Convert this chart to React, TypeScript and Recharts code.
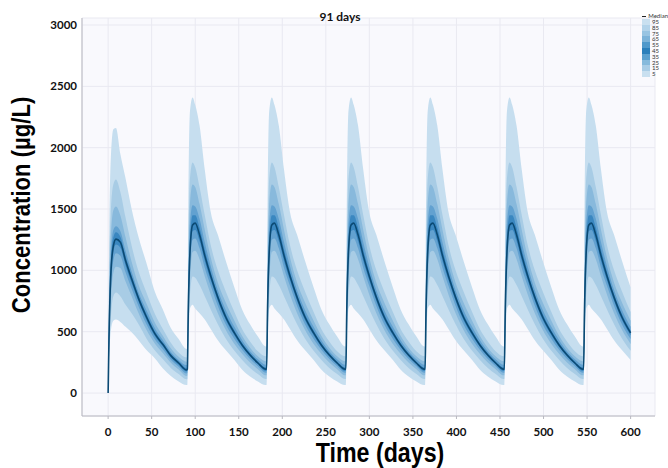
import { ComposedChart, Area, Line, XAxis, YAxis, CartesianGrid } from 'recharts'

// days after each dose at which the percentile bands were read
const postDays = [0, 1, 3, 6, 9, 14, 20, 27, 35, 44, 54, 63, 72, 81, 90]
const doseDays = [0, 91, 182, 273, 364, 455, 546]
const endDay = 600

const xTicks = [0, 50, 100, 150, 200, 250, 300, 350, 400, 450, 500, 550, 600]
const yTicks = [0, 500, 1000, 1500, 2000, 2500, 3000]

// first dosing interval
const p95First = [0, 1100, 1900, 2150, 2160, 1950, 1750, 1500, 1270, 1060, 820, 680, 530, 440, 360]
const p85First = [0, 800, 1450, 1700, 1740, 1640, 1430, 1200, 990, 820, 640, 520, 410, 330, 290]
const p75First = [0, 700, 1250, 1490, 1520, 1450, 1270, 1070, 880, 730, 570, 465, 365, 295, 255]
const p65First = [0, 600, 1100, 1330, 1360, 1320, 1160, 990, 820, 675, 525, 430, 335, 270, 228]
const p55First = [0, 520, 1020, 1270, 1310, 1275, 1120, 960, 795, 645, 500, 410, 320, 257, 205]
const medFirst = [0, 450, 950, 1200, 1255, 1230, 1080, 930, 770, 620, 480, 395, 305, 245, 188]
const p45First = [0, 400, 880, 1150, 1210, 1185, 1040, 895, 745, 595, 460, 380, 290, 230, 175]
const p35First = [0, 360, 800, 1080, 1140, 1120, 985, 850, 705, 560, 435, 355, 272, 215, 160]
const p25First = [0, 320, 720, 980, 1030, 1020, 910, 790, 650, 515, 400, 325, 248, 192, 140]
const p15First = [0, 280, 600, 790, 820, 790, 720, 650, 560, 445, 345, 275, 205, 155, 112]
const p5First = [0, 250, 500, 590, 600, 580, 540, 495, 430, 350, 280, 200, 140, 95, 65]

// later dosing intervals (they look the same in the picture)
const p95Later = [380, 1500, 2300, 2410, 2350, 2180, 1820, 1470, 1290, 1080, 860, 680, 560, 460, 380]
const p85Later = [300, 1050, 1750, 1880, 1840, 1680, 1450, 1200, 1000, 830, 660, 520, 420, 340, 300]
const p75Later = [260, 900, 1550, 1700, 1680, 1540, 1330, 1100, 900, 740, 590, 465, 370, 300, 260]
const p65Later = [230, 780, 1380, 1530, 1520, 1420, 1230, 1030, 840, 680, 540, 430, 340, 275, 230]
const p55Later = [210, 700, 1250, 1450, 1450, 1350, 1170, 985, 805, 645, 510, 405, 325, 258, 210]
const medLater = [195, 650, 1150, 1370, 1385, 1290, 1120, 950, 780, 620, 490, 390, 310, 245, 195]
const p45Later = [180, 600, 1080, 1320, 1330, 1240, 1075, 915, 750, 595, 470, 375, 298, 235, 180]
const p35Later = [165, 550, 1000, 1250, 1260, 1180, 1020, 870, 710, 560, 440, 350, 278, 218, 165]
const p25Later = [145, 480, 900, 1150, 1160, 1090, 950, 800, 650, 515, 400, 318, 250, 195, 145]
const p15Later = [115, 420, 800, 950, 940, 880, 790, 680, 560, 445, 345, 270, 205, 155, 115]
const p5Later = [65, 350, 690, 720, 690, 650, 600, 520, 430, 350, 270, 190, 135, 95, 65]

const legendLabels = ['95', '85', '75', '65', '55', '45', '35', '25', '15', '5']
const legendColors = ['#c9e0f0', '#b2d3ea', '#98c4e2', '#7cb3d9', '#4f99cb', '#2a7fbb', '#5aa0cf', '#86badc', '#a9cde6', '#c9e0f0']

const bandColors = ['#c6deef', '#a8cce5', '#88b9dc', '#62a1d0', '#3a87c0']

const rows: any[] = []
doseDays.forEach((dose, c) => {
	const first = c === 0
	postDays.forEach((p, i) => {
		const day = dose + p
		if (day > endDay) return
		rows.push({
			day,
			b95: first ? [p5First[i], p95First[i]] : [p5Later[i], p95Later[i]],
			b85: first ? [p15First[i], p85First[i]] : [p15Later[i], p85Later[i]],
			b75: first ? [p25First[i], p75First[i]] : [p25Later[i], p75Later[i]],
			b65: first ? [p35First[i], p65First[i]] : [p35Later[i], p65Later[i]],
			b55: first ? [p45First[i], p55First[i]] : [p45Later[i], p55Later[i]],
			med: first ? medFirst[i] : medLater[i],
		})
	})
})

const tickStyle = { fill: '#111', fontSize: 11.5, fontWeight: 700, fontFamily: 'Lato, sans-serif' }
const titleFont = '"Liberation Sans", Arial, sans-serif'

export default function App() {
	return (
		<div style={{ position: 'absolute', left: 0, top: 0, width: 668, height: 468, background: '#fff' }}>
			<ComposedChart width={668} height={468} data={rows} margin={{ top: 18, right: 13, left: 0, bottom: 0 }}>
				<CartesianGrid fill="#f9f9fd" stroke="#e9e9f1" strokeWidth={1} />
				<XAxis
					type="number"
					dataKey="day"
					domain={[-30, 628]}
					ticks={xTicks}
					allowDataOverflow
					height={52}
					tick={tickStyle}
					tickSize={3}
					tickMargin={9}
					stroke="#b8b8c0"
				/>
				<YAxis
					domain={[-187, 3057]}
					ticks={yTicks}
					allowDataOverflow
					width={82}
					tick={tickStyle}
					tickSize={0}
					tickMargin={5}
					stroke="#b8b8c0"
				/>
				<Area type="monotone" dataKey="b95" stroke="none" fill={bandColors[0]} fillOpacity={1} isAnimationActive={false} dot={false} activeDot={false} />
				<Area type="monotone" dataKey="b85" stroke="none" fill={bandColors[1]} fillOpacity={1} isAnimationActive={false} dot={false} activeDot={false} />
				<Area type="monotone" dataKey="b75" stroke="none" fill={bandColors[2]} fillOpacity={1} isAnimationActive={false} dot={false} activeDot={false} />
				<Area type="monotone" dataKey="b65" stroke="none" fill={bandColors[3]} fillOpacity={1} isAnimationActive={false} dot={false} activeDot={false} />
				<Area type="monotone" dataKey="b55" stroke="none" fill={bandColors[4]} fillOpacity={1} isAnimationActive={false} dot={false} activeDot={false} />
				<Line type="monotone" dataKey="med" stroke="#0b4a74" strokeWidth={1.6} dot={false} activeDot={false} isAnimationActive={false} />
			</ComposedChart>

			<div style={{ position: 'absolute', left: 300, top: 9, width: 80, textAlign: 'center', fontFamily: 'Lato, sans-serif', fontWeight: 700, fontSize: 12, color: '#111' }}>
				91 days
			</div>

			<div style={{
				position: 'absolute', left: 21, top: 205, transform: 'translate(-50%, -50%) rotate(-90deg) scaleX(0.85)',
				whiteSpace: 'nowrap', fontFamily: titleFont, fontWeight: 700, fontSize: 26, color: '#000'
			}}>
				Concentration (µg/L)
			</div>

			<div style={{
				position: 'absolute', left: 380, top: 453, transform: 'translate(-50%, -50%) scaleX(0.86)',
				whiteSpace: 'nowrap', fontFamily: titleFont, fontWeight: 700, fontSize: 27, color: '#000'
			}}>
				Time (days)
			</div>

			<div style={{ position: 'absolute', left: 642, top: 13, width: 26, overflow: 'hidden', fontFamily: 'Lato, sans-serif', fontSize: 6, lineHeight: '5.8px', color: '#333' }}>
				<div style={{ display: 'flex', alignItems: 'center', height: 6 }}>
					<div style={{ width: 8, height: 1, background: '#222', marginRight: 2 }} />
					<span>Median</span>
				</div>
				{legendLabels.map((l, i) => (
					<div key={l} style={{ display: 'flex', alignItems: 'center', height: 5.8 }}>
						<div style={{ width: 8, height: 5.8, background: legendColors[i], marginRight: 2 }} />
						<span>{l}</span>
					</div>
				))}
			</div>
		</div>
	)
}
